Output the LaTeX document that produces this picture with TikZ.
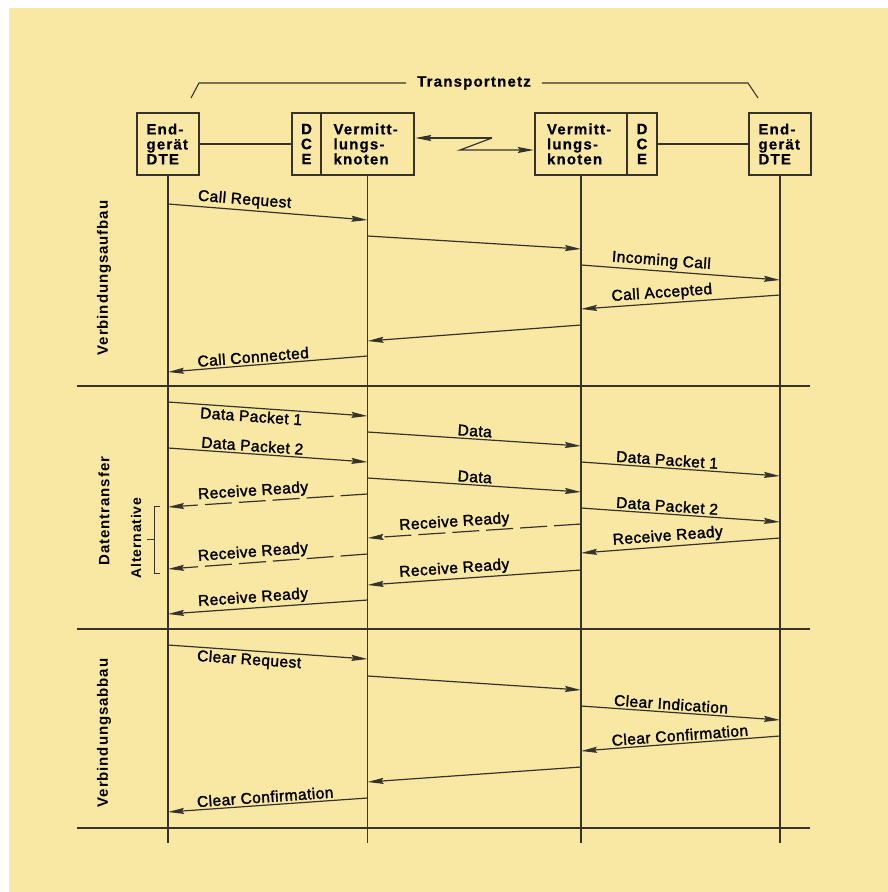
\documentclass[tikz,border=0pt]{standalone}
\usepackage{fontspec}
\usetikzlibrary{arrows.meta}
\newfontfamily\boxfont[LetterSpace=8,FakeBold=0.6]{Liberation Sans Bold}
\newfontfamily\labfont[FakeBold=1.8,LetterSpace=3]{Liberation Sans}
\newfontfamily\secfont[LetterSpace=6]{Liberation Sans Bold}
\definecolor{bg}{HTML}{F8E8A4}
\definecolor{ink}{HTML}{35332B}
\begin{document}
\begin{tikzpicture}[x=1pt,y=-1pt,
  box/.style={draw=ink,line width=2.4pt,minimum height=62pt,inner sep=0pt,
    align=left,text=black,font=\boxfont\fontsize{15}{15}\selectfont},
  life/.style={draw=ink,line width=1.1pt},
  msg/.style={draw=ink,line width=1.2pt,-{Stealth[length=16pt,width=6pt,inset=2pt]}},
  dmsg/.style={msg,dash pattern=on 27pt off 7pt},
  lab/.style={font=\labfont\fontsize{15.5}{17}\selectfont,text=black,sloped,inner sep=2pt},
  sep/.style={draw=ink,line width=1.1pt},
  sec/.style={font=\secfont\fontsize{15}{15}\selectfont,text=black,rotate=90},
  thin/.style={draw=ink,line width=1.1pt}]
\useasboundingbox (0,0) rectangle (888,892);
\fill[bg] (9,8) rectangle (888,892);

% boxes
\node[box,minimum width=62pt,text width=43pt] (dteL) at (168,144) {End-\\gerät\\DTE};
\node[box,minimum width=29pt,align=center] (dceL) at (306.5,144) {D\\C\\E};
\node[box,minimum width=93pt,text width=68pt] (vkL) at (367.5,144) {Vermitt-\\lungs-\\knoten};
\node[box,minimum width=92pt,text width=68pt] (vkR) at (581,144) {Vermitt-\\lungs-\\knoten};
\node[box,minimum width=30pt,align=center] (dceR) at (642,144) {D\\C\\E};
\node[box,minimum width=62pt,text width=43pt] (dteR) at (780,144) {End-\\gerät\\DTE};

\draw[thin] (dteL.east) -- (dceL.west);
\draw[thin] (dceR.east) -- (dteR.west);

% Transportnetz
\node[font=\boxfont\fontsize{15}{15}\selectfont,text=black,inner xsep=11pt] (tn) at (474,83) {Transportnetz};
\coordinate (tL1) at (191,98);
\coordinate (tL2) at (199,83);
\coordinate (tR2) at (748,83);
\coordinate (tR1) at (758,98);
\draw[thin] (tL1) -- (tL2) -- (tn.west);
\draw[thin] (tn.east) -- (tR2) -- (tR1);

% zigzag link
\coordinate (z1) at (492,138);
\coordinate (z2) at (460,150);
\draw[msg] (z1) -- (z1 -| vkL.east);
\draw[msg] (z1) -- (z2) -- (z2 -| vkR.west);

% lifelines
\coordinate (eA) at (dteL |- 0,843);
\coordinate (eB) at (vkL |- 0,843);
\coordinate (eC) at (vkR |- 0,843);
\coordinate (eD) at (dteR |- 0,843);
\draw[life] (dteL.south) -- (eA);
\draw[life] (vkL.south) -- (eB);
\draw[life] (vkR.south) -- (eC);
\draw[life] (dteR.south) -- (eD);

% separators
\coordinate (s1a) at (77,386); \coordinate (s1b) at (810,386);
\coordinate (s2a) at (77,629); \coordinate (s2b) at (810,629);
\coordinate (s3a) at (77,828); \coordinate (s3b) at (810,828);
\draw[sep] (s1a) -- (s1b);
\draw[sep] (s2a) -- (s2b);
\draw[sep] (s3a) -- (s3b);

% section labels
\node[sec] (secA) at (104,278) {Verbindungsaufbau};
\node[sec] (secB) at (104,511) {Datentransfer};
\node[sec] (secC) at (104,733) {Verbindungsabbau};

% Phase 1
\coordinate (a1) at (dteL |- 0,204); \coordinate (b1) at (vkL |- 0,220);
\draw[msg] (a1) -- (b1) node[lab,above,pos=.38] {Call Request};
\coordinate (a2) at (vkL |- 0,236); \coordinate (b2) at (vkR |- 0,249);
\draw[msg] (a2) -- (b2);
\coordinate (a3) at (vkR |- 0,265); \coordinate (b3) at (dteR |- 0,280);
\draw[msg] (a3) -- (b3) node[lab,above,pos=.40] {Incoming Call};
\coordinate (a4) at (dteR |- 0,295); \coordinate (b4) at (vkR |- 0,309);
\draw[msg] (a4) -- (b4) node[lab,above,pos=.59] {Call Accepted};
\coordinate (a5) at (vkR |- 0,325); \coordinate (b5) at (vkL |- 0,341);
\draw[msg] (a5) -- (b5);
\coordinate (a6) at (vkL |- 0,356); \coordinate (b6) at (dteL |- 0,372);
\draw[msg] (a6) -- (b6) node[lab,above,pos=.57] {Call Connected};

% Phase 2
\coordinate (c1) at (dteL |- 0,402); \coordinate (d1) at (vkL |- 0,416);
\draw[msg] (c1) -- (d1) node[lab,below,pos=.42] {Data Packet 1};
\coordinate (c2) at (dteL |- 0,448); \coordinate (d2) at (vkL |- 0,462);
\draw[msg] (c2) -- (d2) node[lab,above,pos=.42] {Data Packet 2};
\coordinate (c3) at (vkL |- 0,432); \coordinate (d3) at (vkR |- 0,446);
\draw[msg] (c3) -- (d3) node[lab,above,pos=.50] {Data};
\coordinate (c4) at (vkL |- 0,478); \coordinate (d4) at (vkR |- 0,492);
\draw[msg] (c4) -- (d4) node[lab,above,pos=.50] {Data};
\coordinate (c5) at (vkR |- 0,462); \coordinate (d5) at (dteR |- 0,476);
\draw[msg] (c5) -- (d5) node[lab,above,pos=.43] {Data Packet 1};
\coordinate (c6) at (vkR |- 0,508); \coordinate (d6) at (dteR |- 0,522);
\draw[msg] (c6) -- (d6) node[lab,above,pos=.43] {Data Packet 2};
\coordinate (c7) at (dteR |- 0,538); \coordinate (d7) at (vkR |- 0,553);
\draw[msg] (c7) -- (d7) node[lab,above,pos=.56] {Receive Ready};
\coordinate (c8) at (vkR |- 0,524); \coordinate (d8) at (vkL |- 0,538);
\draw[dmsg] (c8) -- (d8) node[lab,above,pos=.59] {Receive Ready};
\coordinate (c9) at (vkR |- 0,570); \coordinate (d9) at (vkL |- 0,585);
\draw[msg] (c9) -- (d9) node[lab,above,pos=.59] {Receive Ready};
\coordinate (c10) at (vkL |- 0,494); \coordinate (d10) at (dteL |- 0,507);
\draw[dmsg] (c10) -- (d10) node[lab,above,pos=.57] {Receive Ready};
\coordinate (c11) at (vkL |- 0,554); \coordinate (d11) at (dteL |- 0,569);
\draw[dmsg] (c11) -- (d11) node[lab,above,pos=.57] {Receive Ready};
\coordinate (c12) at (vkL |- 0,600); \coordinate (d12) at (dteL |- 0,614);
\draw[msg] (c12) -- (d12) node[lab,above,pos=.57] {Receive Ready};

% Alternative bracket
\coordinate (k1) at (160,506); \coordinate (k2) at (154,506);
\coordinate (k3) at (154,573); \coordinate (k4) at (160,573);
\coordinate (k5) at (154,539); \coordinate (k6) at (147,539);
\draw[thin,line width=0.9pt] (k1) -- (k2) -- (k3) -- (k4);
\draw[thin,line width=0.9pt] (k5) -- (k6);
\node[sec,font=\secfont\fontsize{14}{14}\selectfont] (alt) at (136,538) {Alternative};

% Phase 3
\coordinate (e1) at (dteL |- 0,645); \coordinate (f1) at (vkL |- 0,659);
\draw[msg] (e1) -- (f1) node[lab,below,pos=.41] {Clear Request};
\coordinate (e2) at (vkL |- 0,676); \coordinate (f2) at (vkR |- 0,690);
\draw[msg] (e2) -- (f2);
\coordinate (e3) at (vkR |- 0,706); \coordinate (f3) at (dteR |- 0,720);
\draw[msg] (e3) -- (f3) node[lab,above,pos=.45] {Clear Indication};
\coordinate (e4) at (dteR |- 0,736); \coordinate (f4) at (vkR |- 0,751);
\draw[msg] (e4) -- (f4) node[lab,above,pos=.50] {Clear Confirmation};
\coordinate (e5) at (vkR |- 0,767); \coordinate (f5) at (vkL |- 0,782);
\draw[msg] (e5) -- (f5);
\coordinate (e6) at (vkL |- 0,798); \coordinate (f6) at (dteL |- 0,812);
\draw[msg] (e6) -- (f6) node[lab,above,pos=.51] {Clear Confirmation};
\end{tikzpicture}
\end{document}
